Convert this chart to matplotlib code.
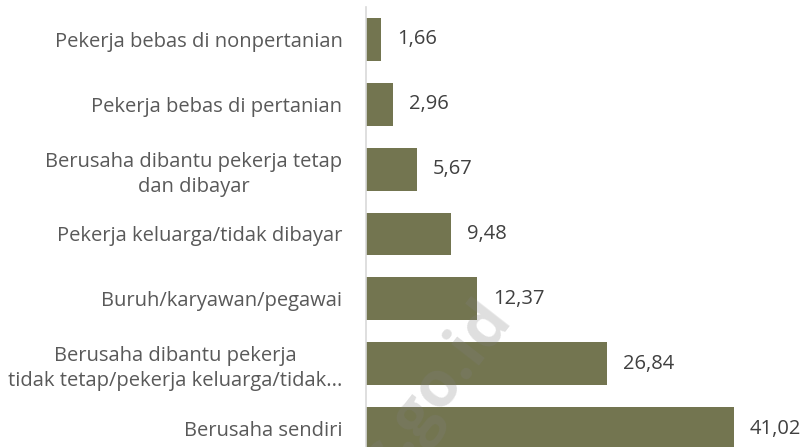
# distribusi status pekerjaan - horizontal bar chart
import matplotlib.pyplot as plt

categories = [
    'Berusaha sendiri',
    'Berusaha dibantu pekerja\ntidak tetap/pekerja keluarga/tidak...',
    'Buruh/karyawan/pegawai',
    'Pekerja keluarga/tidak dibayar',
    'Berusaha dibantu pekerja tetap\ndan dibayar',
    'Pekerja bebas di pertanian',
    'Pekerja bebas di nonpertanian',
]
values = [41.02, 26.84, 12.37, 9.48, 5.67, 2.96, 1.66]
value_labels = ['41,02', '26,84', '12,37', '9,48', '5,67', '2,96', '1,66']

plt.rcParams['font.family'] = ['Open Sans', 'DejaVu Sans']

W, H = 807, 447
fig = plt.figure(figsize=(W / 100, H / 100), dpi=100)
x0 = 366 / W
px_per_unit = 8.97
xmax = (W - 366) / px_per_unit
ax = fig.add_axes([x0, 0, 1 - x0, 1 - 7 / H])

pos = list(range(len(categories)))
ax.barh(pos, values, height=0.66, color='#737550', zorder=2)
ax.set_xlim(0, xmax)
ax.set_ylim(-0.285, 6.50)

for p, v, lab in zip(pos, values, value_labels):
    ax.annotate(lab, (v, p), xytext=(11.5, 0), textcoords='offset points',
                ha='left', va='center', fontsize=14.5, color='#404040')

ax.set_yticks(pos)
ax.set_yticklabels(categories, fontsize=14.5, color='#595959',
                   multialignment='center', linespacing=1.35)
ax.tick_params(axis='y', length=0, pad=17)
ax.set_xticks([])
for s in ['top', 'right', 'bottom']:
    ax.spines[s].set_visible(False)
ax.spines['left'].set_color('#d9d9d9')
ax.spines['left'].set_linewidth(1.2)

# watermark
fig.text(512 / W, 1 - 318 / H, 'bps.go.id', rotation=52, rotation_mode='anchor',
         fontsize=46, fontweight='bold', color='#808080', alpha=0.25,
         ha='right', va='baseline', zorder=5)

fig.savefig('out.png', dpi=100)
